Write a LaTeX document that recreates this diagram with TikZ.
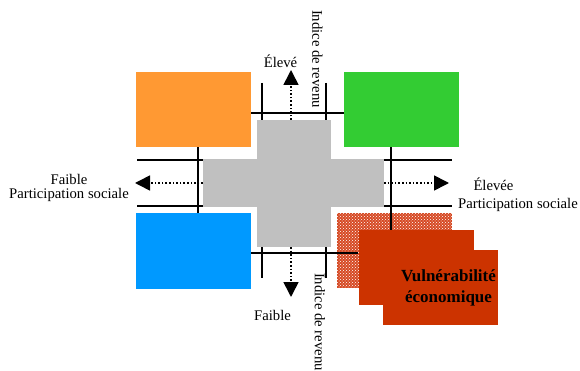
\documentclass[tikz,border=0pt]{standalone}
\usepackage{fontspec}
\setmainfont{Liberation Serif}
\usepackage{xcolor}
\usetikzlibrary{positioning,arrows.meta,patterns}

\definecolor{quadorange}{HTML}{FF9933}
\definecolor{quadgreen}{HTML}{33CC33}
\definecolor{quadblue}{HTML}{0099FF}
\definecolor{crossgray}{HTML}{C0C0C0}
\definecolor{vulnred}{HTML}{CC3300}
\definecolor{specklered}{HTML}{D64A24}

\begin{document}
\begin{tikzpicture}[
        x=1pt, y=-1pt,
        quad/.style={minimum width=115pt, minimum height=75pt, inner sep=0pt, outer sep=0pt},
        bar/.style={fill=crossgray, inner sep=0pt, outer sep=0pt},
        gridline/.style={line width=2pt},
        arr/.style={dotted, line width=1.6pt, -{Triangle[length=15pt, width=15pt]}},
        lbl/.style={font=\fontsize{14.7}{14}\selectfont, align=center, inner sep=0pt},
        vuln/.style={font=\bfseries\fontsize{17}{21}\selectfont, align=center, inner sep=0pt},
    ]
        \useasboundingbox (0,0) rectangle (580,371);

        % speckled box behind the red ones
        \node[quad, fill=specklered] (speckle) at (394.5,250.5) {};
        \fill[pattern=crosshatch dots, pattern color=white]
            (speckle.north west) rectangle (speckle.south east);

        % the two grids of lines
        \draw[gridline] (250,113) -- (344,113);
        \draw[gridline] (250,253) -- (358,253);
        \draw[gridline] (262,83) -- (262,278);
        \draw[gridline] (326,83) -- (326,278);
        \draw[gridline] (137,160) -- (452,160);
        \draw[gridline] (137,206) -- (452,206);
        \draw[gridline] (198,147) -- (198,214);
        \draw[gridline] (391,147) -- (391,230);

        % grey cross
        \node[bar, minimum width=74pt, minimum height=127pt] (vbar) at (294,183.5) {};
        \node[bar, minimum width=181pt, minimum height=48pt] (hbar) at (293.5,183) {};

        % quadrants
        \node[quad, fill=quadorange] (orange) at (193,110) {};
        \node[quad, fill=quadgreen]  (green)  at (401.5,110) {};
        \node[quad, fill=quadblue]   (blue)   at (193,251) {};
        \node[quad, fill=vulnred]    (redback)  at (416,267) {};
        \node[quad, fill=vulnred]    (redfront) at (440.5,287.5) {};
        \node[vuln] (vulntext) at ([xshift=8pt]redfront.center) {Vulnérabilité\\économique};

        % axes
        \coordinate (uptip)    at (291,70);
        \coordinate (downtip)  at (291,297);
        \coordinate (lefttip)  at (135,183);
        \coordinate (righttip) at (449,183);
        \draw[arr] (vbar.north -| uptip) -- (uptip);
        \draw[arr] (vbar.south -| downtip) -- (downtip);
        \draw[arr] (hbar.west) -- (lefttip);
        \draw[arr] (hbar.east) -- (righttip);

        \node[lbl, anchor=base] (high)    at (280.5,68) {Élevé};
        \node[lbl, anchor=base] (low)     at (272.5,320) {Faible};
        \node[lbl] (weak)   at (69,188) {Faible\\Participation sociale};
        \node[lbl, anchor=base] (strong)  at (493.5,191) {Élevée};
        \node[lbl, anchor=base] (partic)  at (518,209) {Participation sociale};
        \node[lbl, rotate=-90] (incometop) at (317.5,59) {Indice de revenu};
        \node[lbl, rotate=-90] (incomebot) at (320,322) {Indice de revenu};
    \end{tikzpicture}
\end{document}
